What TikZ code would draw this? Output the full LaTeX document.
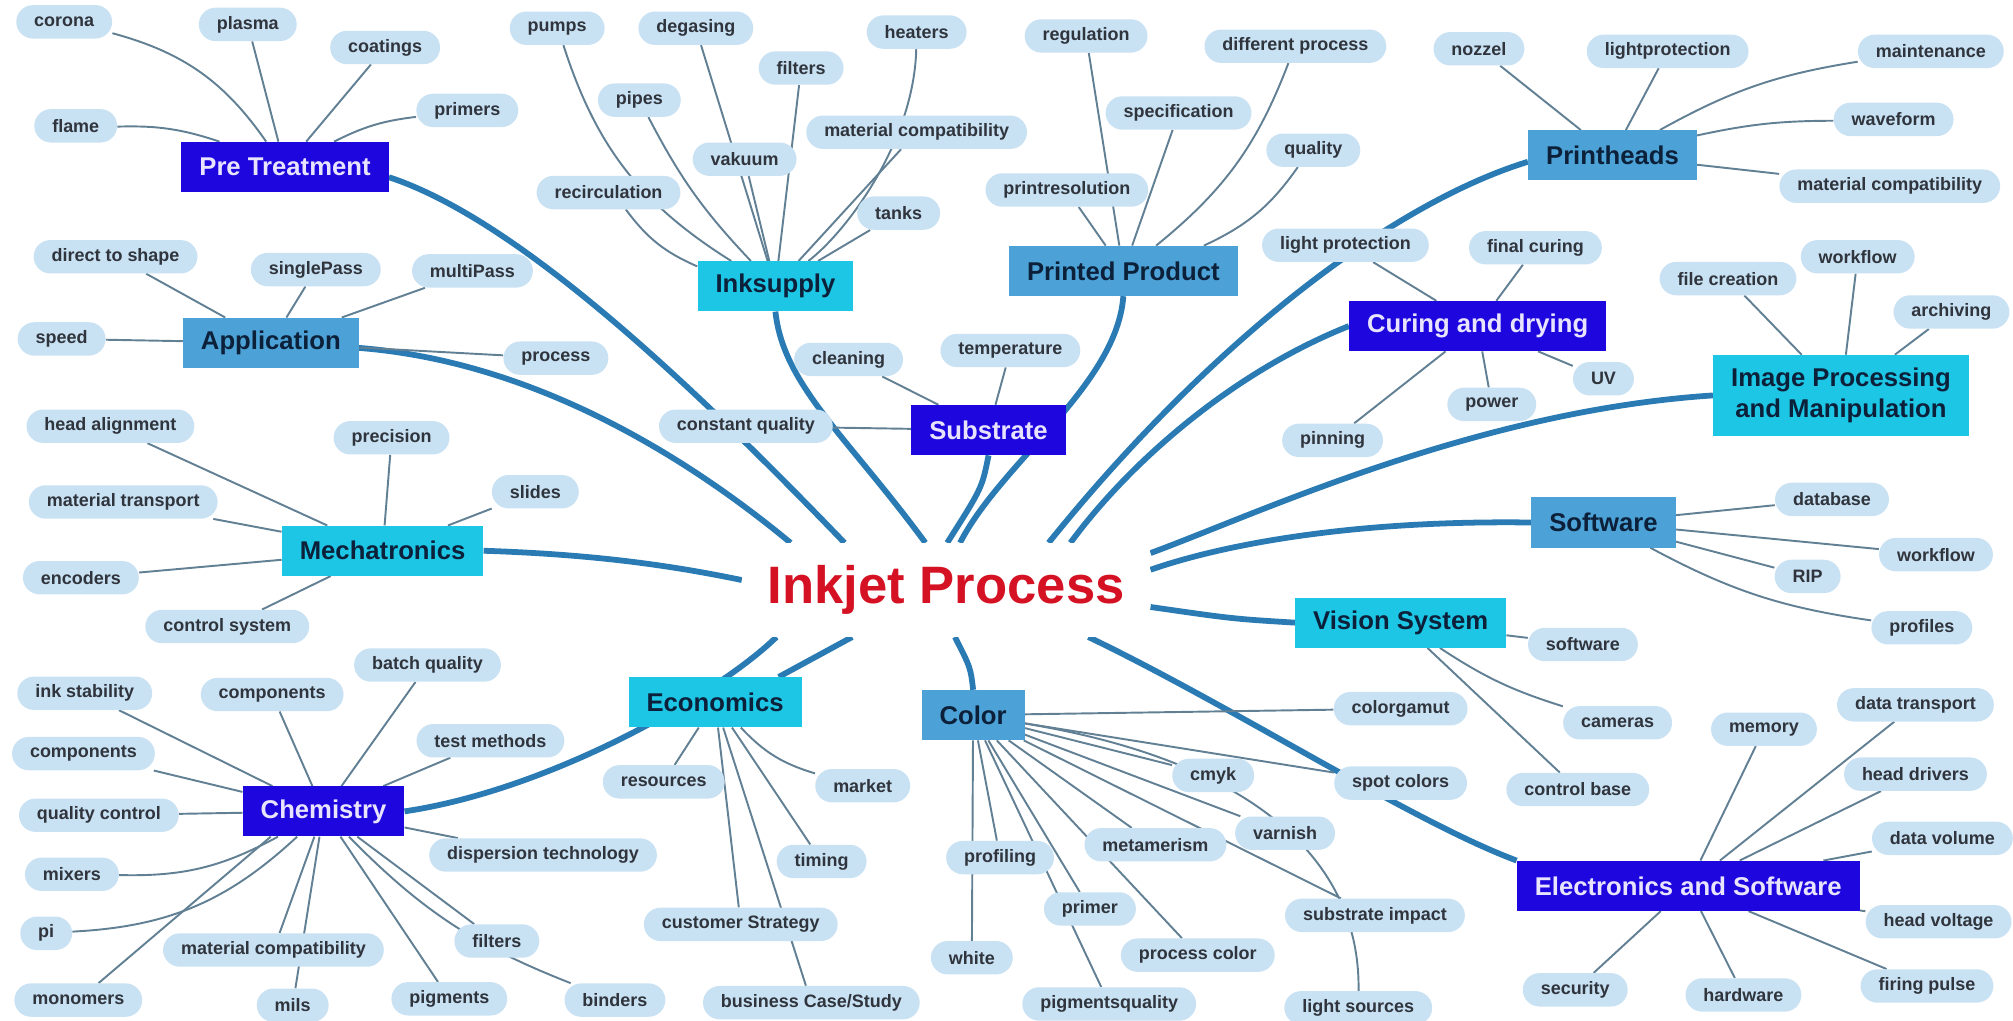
\documentclass[tikz,border=0pt]{standalone}
\usepackage{fontspec}
\setmainfont{Liberation Sans}
\usetikzlibrary{backgrounds}

\definecolor{hubdark}{RGB}{30,6,222}
\definecolor{hubmid}{RGB}{76,162,214}
\definecolor{hubcyan}{RGB}{28,198,228}
\definecolor{hubpale}{RGB}{232,228,255}
\definecolor{hubink}{RGB}{12,32,58}
\definecolor{leafblue}{RGB}{200,226,244}
\definecolor{leafink}{RGB}{48,52,60}
\definecolor{trunkblue}{RGB}{42,122,180}
\definecolor{twiggray}{RGB}{98,128,148}
\definecolor{titlered}{RGB}{212,18,36}

\tikzset{
  hub/.style={rectangle, inner xsep=14pt, minimum height=39pt,
    font=\fontsize{20}{24}\selectfont\bfseries},
  darkhub/.style={hub, fill=hubdark, text=hubpale},
  midhub/.style={hub, fill=hubmid, text=hubink},
  cyanhub/.style={hub, fill=hubcyan, text=hubink},
  leaf/.style={rectangle, rounded corners=13pt, fill=leafblue, text=leafink,
    inner xsep=14pt, minimum height=26pt,
    font=\fontsize{14}{16}\selectfont\bfseries},
  trunk/.style={trunkblue, line width=4.5pt},
  twig/.style={twiggray, line width=1.5pt},
  maintitle/.style={fill=white, minimum width=318pt, minimum height=73pt,
    text=titlered, font=\fontsize{41}{48}\selectfont\bfseries}
}

\begin{document}
\begin{tikzpicture}[x=1pt, y=-1pt]
\useasboundingbox (0,0) rectangle (1568,795);

% centre
\node[maintitle] (ink) at (737,459.5) {Inkjet Process};

% main topics
\node[darkhub] (pt) at (222,130) {Pre Treatment};
\node[midhub] (app) at (211,267) {Application};
\node[cyanhub] (mech) at (298,429) {Mechatronics};
\node[darkhub] (chem) at (252,632) {Chemistry};
\node[cyanhub] (econ) at (557,547) {Economics};
\node[midhub] (colhub) at (758,557) {Color};
\node[cyanhub] (inks) at (604,223) {Inksupply};
\node[darkhub] (sub) at (770,335) {Substrate};
\node[midhub] (prod) at (875,211) {Printed Product};
\node[darkhub] (cure) at (1151,254) {Curing and drying};
\node[midhub] (heads) at (1256,121) {Printheads};
\node[cyanhub, align=center, minimum height=63pt] (img) at (1434,308) {Image Processing\\and Manipulation};
\node[midhub] (soft) at (1249,407) {Software};
\node[cyanhub] (vis) at (1091,485) {Vision System};
\node[darkhub] (elec) at (1315,690) {Electronics and Software};

% pre treatment
\node[leaf] (corona) at (50,17) {corona};
\node[leaf] (plasma) at (193,19) {plasma};
\node[leaf] (coatings) at (300,37) {coatings};
\node[leaf] (primers) at (364,86) {primers};
\node[leaf] (flame) at (59,98) {flame};
% application
\node[leaf] (dts) at (90,200) {direct to shape};
\node[leaf] (single) at (246,210) {singlePass};
\node[leaf] (multi) at (368,211) {multiPass};
\node[leaf] (speed) at (48,264) {speed};
\node[leaf] (proc) at (433,279) {process};
% mechatronics
\node[leaf] (headal) at (86,332) {head alignment};
\node[leaf] (precision) at (305,341) {precision};
\node[leaf] (slides) at (417,383) {slides};
\node[leaf] (mattrans) at (96,391) {material transport};
\node[leaf] (encoders) at (63,450) {encoders};
\node[leaf] (ctrlsys) at (177,488) {control system};
% chemistry
\node[leaf] (inkstab) at (66,540) {ink stability};
\node[leaf] (compa) at (212,541) {components};
\node[leaf] (batch) at (333,518) {batch quality};
\node[leaf] (compb) at (65,587) {components};
\node[leaf] (testm) at (382,577) {test methods};
\node[leaf] (qualctl) at (77,635) {quality control};
\node[leaf] (dispers) at (423,666) {dispersion technology};
\node[leaf] (mixers) at (56,681) {mixers};
\node[leaf] (pileaf) at (36,727) {pi};
\node[leaf] (chemmat) at (213,740) {material compatibility};
\node[leaf] (filtc) at (387,733) {filters};
\node[leaf] (monomers) at (61,779) {monomers};
\node[leaf] (mils) at (228,783) {mils};
\node[leaf] (pigments) at (350,778) {pigments};
\node[leaf] (binders) at (479,779) {binders};
% economics
\node[leaf] (resources) at (517,609) {resources};
\node[leaf] (market) at (672,612) {market};
\node[leaf] (timing) at (640,671) {timing};
\node[leaf] (custstr) at (577,720) {customer Strategy};
\node[leaf] (bizcase) at (632,781) {business Case/Study};
% color
\node[leaf] (gamut) at (1091,552) {colorgamut};
\node[leaf] (spot) at (1091,610) {spot colors};
\node[leaf] (cmyk) at (945,604) {cmyk};
\node[leaf] (varnish) at (1001,649) {varnish};
\node[leaf] (metam) at (900,658) {metamerism};
\node[leaf] (profiling) at (779,668) {profiling};
\node[leaf] (primer) at (849,708) {primer};
\node[leaf] (subimp) at (1071,713) {substrate impact};
\node[leaf] (proccol) at (933,744) {process color};
\node[leaf] (whiteleaf) at (757,746) {white};
\node[leaf] (pigq) at (864,782) {pigmentsquality};
\node[leaf] (lights) at (1058,785) {light sources};
% inksupply
\node[leaf] (pumps) at (434,22) {pumps};
\node[leaf] (degas) at (542,22) {degasing};
\node[leaf] (heaters) at (714,25) {heaters};
\node[leaf] (filti) at (624,53) {filters};
\node[leaf] (pipes) at (498,78) {pipes};
\node[leaf] (inkmat) at (714,103) {material compatibility};
\node[leaf] (vakuum) at (580,124) {vakuum};
\node[leaf] (recirc) at (474,150) {recirculation};
\node[leaf] (tanks) at (700,166) {tanks};
% substrate
\node[leaf] (cleaning) at (661,280) {cleaning};
\node[leaf] (temp) at (787,273) {temperature};
\node[leaf] (constq) at (581,332) {constant quality};
% printed product
\node[leaf] (regul) at (846,28) {regulation};
\node[leaf] (diffproc) at (1009,36) {different process};
\node[leaf] (spec) at (918,88) {specification};
\node[leaf] (quality) at (1023,117) {quality};
\node[leaf] (printres) at (831,148) {printresolution};
% printheads
\node[leaf] (nozzel) at (1152,38) {nozzel};
\node[leaf] (lightprot) at (1299,40) {lightprotection};
\node[leaf] (maint) at (1504,40) {maintenance};
\node[leaf] (waveform) at (1475,93) {waveform};
\node[leaf] (headmat) at (1472,145) {material compatibility};
% curing and drying
\node[leaf] (lprot) at (1048,191) {light protection};
\node[leaf] (finalcur) at (1196,193) {final curing};
\node[leaf] (uv) at (1249,295) {UV};
\node[leaf] (power) at (1162,315) {power};
\node[leaf] (pinning) at (1038,343) {pinning};
% image processing
\node[leaf] (filecr) at (1346,217) {file creation};
\node[leaf] (imgwf) at (1447,200) {workflow};
\node[leaf] (archiv) at (1520,243) {archiving};
% software
\node[leaf] (database) at (1427,389) {database};
\node[leaf] (softwf) at (1508,432) {workflow};
\node[leaf] (rip) at (1408,449) {RIP};
\node[leaf] (profiles) at (1497,489) {profiles};
% vision system
\node[leaf] (vissoft) at (1233,502) {software};
\node[leaf] (cameras) at (1260,563) {cameras};
\node[leaf] (ctrlbase) at (1229,615) {control base};
% electronics
\node[leaf] (memory) at (1374,568) {memory};
\node[leaf] (datatr) at (1492,549) {data transport};
\node[leaf] (headdrv) at (1492,603) {head drivers};
\node[leaf] (datavol) at (1513,653) {data volume};
\node[leaf] (headvolt) at (1510,718) {head voltage};
\node[leaf] (firing) at (1501,768) {firing pulse};
\node[leaf] (hardware) at (1358,775) {hardware};
\node[leaf] (security) at (1227,771) {security};

\begin{scope}[on background layer]
\fill[white] (0,0) rectangle (1568,795);

% trunks to the centre
\draw[trunk] ([yshift=-8pt]pt.east) .. controls (400,170) and (530,290) .. ([xshift=80pt]ink.north west);
\draw[trunk] ([yshift=-4pt]app.east) .. controls (420,282) and (540,360) .. ([xshift=38pt]ink.north west);
\draw[trunk] (mech.east) .. controls (470,432) and (530,442) .. ([yshift=-29pt]ink.north west);
\draw[trunk] (chem.east) .. controls (430,615) and (560,540) .. ([xshift=27pt]ink.south west);
\draw[trunk] ([xshift=-18pt]econ.north east) -- ([xshift=86pt]ink.south west);
\draw[trunk] (colhub.north) .. controls (756,520) .. ([xshift=166pt]ink.south west);
\draw[trunk] (inks.south) .. controls (610,300) and (660,340) .. ([xshift=143pt]ink.north west);
\draw[trunk] (sub.south) .. controls (765,380) .. ([xshift=160pt]ink.north west);
\draw[trunk] (prod.south) .. controls (870,300) and (780,360) .. ([xshift=170pt]ink.north west);
\draw[trunk] ([yshift=-5pt]heads.west) .. controls (1080,160) and (940,270) .. ([xshift=239pt]ink.north west);
\draw[trunk] (cure.west) .. controls (960,290) and (880,360) .. ([xshift=256pt]ink.north west);
\draw[trunk] (img.west) .. controls (1150,320) and (980,400) .. ([yshift=-8pt]ink.north east);
\draw[trunk] (soft.west) .. controls (1050,405) and (950,425) .. ([yshift=-21pt]ink.north east);
\draw[trunk] (vis.west) .. controls (960,482) .. ([yshift=-50pt]ink.north east);
\draw[trunk] (elec.north west) .. controls (1100,640) and (960,550) .. ([xshift=270pt]ink.south west);

% pre treatment
\draw[twig] (pt) to[bend right=20] (corona);
\draw[twig] (pt) -- (plasma);
\draw[twig] (pt) -- (coatings);
\draw[twig] (pt) to[bend left=10] (primers);
\draw[twig] (pt) to[bend right=10] (flame);
% application
\draw[twig] (app) -- (dts);
\draw[twig] (app) -- (single);
\draw[twig] (app) -- (multi);
\draw[twig] (app) -- (speed);
\draw[twig] (app) -- (proc);
% mechatronics
\draw[twig] (mech) -- (headal);
\draw[twig] (mech) -- (precision);
\draw[twig] (mech) -- (slides);
\draw[twig] (mech) -- (mattrans);
\draw[twig] (mech) -- (encoders);
\draw[twig] (mech) -- (ctrlsys);
% chemistry
\draw[twig] (chem) -- (inkstab);
\draw[twig] (chem) -- (compa);
\draw[twig] (chem) -- (batch);
\draw[twig] (chem) -- (compb);
\draw[twig] (chem) -- (testm);
\draw[twig] (chem) -- (qualctl);
\draw[twig] (chem) -- (dispers);
\draw[twig] (chem) to[bend left=15] (mixers);
\draw[twig] (chem) to[bend left=20] (pileaf);
\draw[twig] (chem) -- (chemmat);
\draw[twig] ([xshift=22pt]chem.south west) -- (monomers.40);
\draw[twig] (chem) -- (mils);
\draw[twig] (chem) -- (pigments);
\draw[twig] (chem) -- (filtc);
\draw[twig] (chem) to[bend right=12] (binders);
% economics
\draw[twig] (econ) -- (resources);
\draw[twig] (econ) to[bend right=15] (market);
\draw[twig] (econ) -- (timing);
\draw[twig] (econ) -- (custstr);
\draw[twig] (econ) -- (bizcase);
% color
\draw[twig] (colhub) -- (gamut);
\draw[twig] (colhub) -- (spot);
\draw[twig] (colhub) -- (cmyk);
\draw[twig] (colhub) -- (varnish);
\draw[twig] (colhub) -- (subimp);
\draw[twig] (colhub) .. controls (960,590) and (1060,660) .. (lights);
\draw[twig] (colhub) -- (metam);
\draw[twig] (colhub) -- (proccol);
\draw[twig] (colhub) -- (primer);
\draw[twig] (colhub) -- (pigq);
\draw[twig] (colhub) -- (profiling);
\draw[twig] (colhub) -- (whiteleaf);
% inksupply
\draw[twig] (inks) to[bend left=20] (pumps);
\draw[twig] (inks) -- (degas);
\draw[twig] (inks) .. controls (660,180) and (712,110) .. (heaters);
\draw[twig] (inks) -- (filti);
\draw[twig] (inks) to[bend left=8] (pipes);
\draw[twig] (inks) -- (inkmat);
\draw[twig] (inks) -- (vakuum);
\draw[twig] (inks) to[bend left=15] (recirc);
\draw[twig] (inks) -- (tanks);
% substrate
\draw[twig] (sub) -- (cleaning);
\draw[twig] (sub) -- (temp);
\draw[twig] (sub) -- (constq);
% printed product
\draw[twig] (prod) -- (regul);
\draw[twig] (prod) to[bend right=15] (diffproc);
\draw[twig] (prod) -- (spec);
\draw[twig] (prod) to[bend right=15] (quality);
\draw[twig] (prod) -- (printres);
% printheads
\draw[twig] (heads) -- (nozzel);
\draw[twig] (heads) -- (lightprot);
\draw[twig] (heads) to[bend left=10] (maint);
\draw[twig] (heads) to[bend left=6] (waveform);
\draw[twig] (heads) -- (headmat);
% curing and drying
\draw[twig] (cure) -- (lprot);
\draw[twig] (cure) -- (finalcur);
\draw[twig] (cure) -- (uv);
\draw[twig] (cure) -- (power);
\draw[twig] (cure) -- (pinning);
% image processing
\draw[twig] (img) -- (filecr);
\draw[twig] (img) -- (imgwf);
\draw[twig] (img) -- (archiv);
% software
\draw[twig] (soft) -- (database);
\draw[twig] (soft) -- (softwf);
\draw[twig] (soft) -- (rip);
\draw[twig] (soft) to[bend right=10] (profiles);
% vision system
\draw[twig] (vis) -- (vissoft);
\draw[twig] (vis) to[bend right=8] (cameras);
\draw[twig] (vis) -- (ctrlbase);
% electronics
\draw[twig] (elec) -- (memory);
\draw[twig] (elec) -- (datatr);
\draw[twig] (elec) -- (headdrv);
\draw[twig] (elec) -- (datavol);
\draw[twig] (elec) -- (headvolt);
\draw[twig] (elec) -- (firing);
\draw[twig] (elec) -- (hardware);
\draw[twig] (elec) -- (security);
\end{scope}
\end{tikzpicture}
\end{document}
